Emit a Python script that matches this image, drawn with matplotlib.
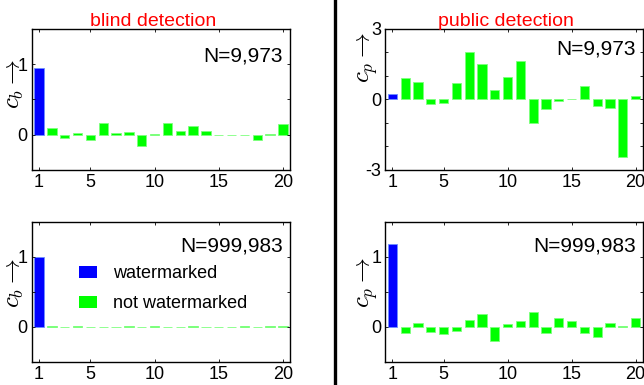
import matplotlib
matplotlib.use("Agg")
import matplotlib.pyplot as plt
from matplotlib.lines import Line2D
from matplotlib.patches import Patch
import numpy as np

plt.rcParams['font.family'] = ['Liberation Sans', 'DejaVu Sans']
plt.rcParams['mathtext.fontset'] = 'cm'

idx = list(range(1, 21))
blind_small = [0.95, 0.09, -0.04, 0.02, -0.07, 0.16, 0.03, 0.04, -0.155, 0.01,
               0.16, 0.05, 0.13, 0.06, 0.003, -0.01, 0.003, -0.08, 0.01, 0.15]
public_small = [0.23, 0.90, 0.74, -0.21, -0.16, 0.70, 2.03, 1.49, 0.41, 0.94,
                1.64, -1.00, -0.40, -0.05, 0.03, 0.59, -0.29, -0.37, -2.44, 0.14]
blind_large = [1.00, 0.004, -0.003, 0.004, 0.003, -0.004, 0.003, 0.005, -0.003, 0.004,
               0.003, -0.002, 0.004, 0.003, -0.003, 0.002, 0.004, -0.004, 0.005, 0.015]
public_large = [1.18, -0.086, 0.05, -0.076, -0.105, -0.057, 0.095, 0.176, -0.20, 0.033,
                0.08, 0.205, -0.086, 0.124, 0.076, -0.095, -0.15, 0.05, 0.01, 0.124]

titles = ["blind detection", "public detection"]
n_labels = ["N=9,973", "N=999,983"]
xticks = [1, 5, 10, 15, 20]
legend_labels = ["watermarked", "not watermarked"]

BLUE = "#0000FF"
GREEN = "#00FF00"

fig = plt.figure(figsize=(6.44, 3.85), dpi=100)
W, H = 644, 385

def add_ax(l, t, r, b):
    return fig.add_axes([l / W, 1 - b / H, (r - l) / W, (b - t) / H])

ax_tl = add_ax(32, 29, 290, 170)
ax_tr = add_ax(385.3, 29, 642.7, 170)
ax_bl = add_ax(32, 222, 290, 361.7)
ax_br = add_ax(385.3, 222, 642.7, 361.7)

panels = [
    (ax_tl, blind_small, (-0.5, 1.5), [0, 0.5, 1], ['0', '', '1'], r'$c_b\rightarrow$', n_labels[0], 0.766, 0.61),
    (ax_tr, public_small, (-3, 3), [-3, -2, -1, 0, 1, 2, 3], ['-3', '', '', '0', '', '', '3'], r'$c_p\rightarrow$', n_labels[0], 0.816, 0.80),
    (ax_bl, blind_large, (-0.5, 1.5), [0, 0.5, 1], ['0', '', '1'], r'$c_b\rightarrow$', n_labels[1], 0.787, 0.56),
    (ax_br, public_large, (-0.5, 1.5), [0, 0.5, 1], ['0', '', '1'], r'$c_p\rightarrow$', n_labels[1], 0.787, 0.57),
]

for ax, vals, ylim, yt, ytl, ylab, ntext, ny, ly in panels:
    colors = [BLUE] + [GREEN] * (len(vals) - 1)
    edges = ['#6f8fff'] + ['#7dff7d'] * (len(vals) - 1)
    ax.bar(idx, vals, width=0.72, color=colors, edgecolor=edges, linewidth=0.6)
    ax.set_xlim(0.45, 20.55)
    ax.set_ylim(*ylim)
    ax.set_xticks(xticks)
    ax.set_xticklabels([str(t) for t in xticks])
    ax.set_yticks(yt)
    ax.set_yticklabels(ytl)
    ax.tick_params(direction='in', length=2.5, width=0.6, top=True, right=True,
                   labelsize=13, pad=3)
    for s in ax.spines.values():
        s.set_linewidth(1.0)
    ax.set_ylabel(ylab, fontsize=18, labelpad=0)
    ax.yaxis.label.set_verticalalignment('center')
    ax.yaxis.set_label_coords(-0.068, ly)
    ax.text(0.973, ny, ntext, transform=ax.transAxes, ha='right', va='baseline', fontsize=15)

ax_tl.text(0.469, 1.021, titles[0], transform=ax_tl.transAxes, ha='center', va='baseline',
           color='red', fontsize=14)
ax_tr.text(0.469, 1.021, titles[1], transform=ax_tr.transAxes, ha='center', va='baseline',
           color='red', fontsize=14)

handles = [Patch(facecolor=BLUE, edgecolor='none'), Patch(facecolor=GREEN, edgecolor='none')]
ax_bl.legend(handles, legend_labels, loc='upper left', bbox_to_anchor=(0.182, 0.69),
             frameon=False, fontsize=13, handlelength=1.0, handleheight=0.7,
             handletextpad=0.9, labelspacing=0.72, borderpad=0, borderaxespad=0)

fig.add_artist(Line2D([334.5 / W, 334.5 / W], [0, 1], color='black', linewidth=2.4,
                      transform=fig.transFigure))

fig.savefig("out.png", dpi=100)
